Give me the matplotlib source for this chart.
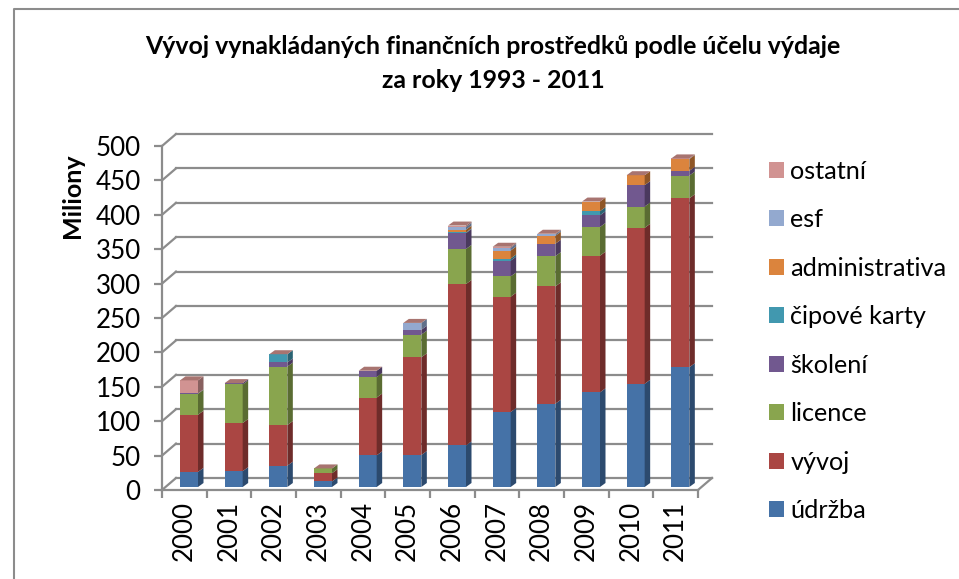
import numpy as np
import matplotlib
matplotlib.use('Agg')
import matplotlib.pyplot as plt
from matplotlib.patches import Polygon, Patch

plt.rcParams['font.family'] = ['Lato', 'DejaVu Sans']

roky = ['2000', '2001', '2002', '2003', '2004', '2005', '2006', '2007', '2008', '2009', '2010', '2011']

udrzba = [22, 23, 31, 8, 46, 46.5, 60.5, 109, 121, 137.6, 150, 174]
vyvoj = [83, 70, 59, 12, 84, 142, 234.5, 167.6, 170.5, 198.6, 226.7, 245.6]
licence = [30.5, 56, 85, 7, 30, 33, 51, 29.5, 44, 41.7, 31, 33]
skoleni = [0.5, 2, 6, 0, 9, 7, 23, 23, 18, 17, 31, 7]
cipove_karty = [0, 0, 12, 0, 0, 0, 1, 3, 0, 6, 0, 0]
administrativa = [0, 0, 0, 0, 0, 0, 4, 11.6, 11.6, 14, 14.5, 17]
esf = [0, 0, 0, 0, 0, 10, 4, 4, 2, 0, 0, 0]
ostatni = [19, 0, 0, 0, 0, 0, 2, 1.5, 1, 0, 0, 1]

serie = [udrzba, vyvoj, licence, skoleni, cipove_karty, administrativa, esf, ostatni]
nazvy = ['údržba', 'vývoj', 'licence', 'školení', 'čipové karty', 'administrativa', 'esf', 'ostatní']
barvy = ['#4572A7', '#AA4643', '#89A54E', '#71588F', '#4198AF', '#DB843D', '#93A9CF', '#D19392']
bocni = ['#2C4A6E', '#6E2C2A', '#5A6C32', '#4A395E', '#2A6373', '#8F5626', '#60708A', '#88605F']
horni = '#A87470'

W, H = 959, 579
fig = plt.figure(figsize=(W / 100, H / 100), dpi=100)

# ramecek grafu - jen vlevo a nahore, zbytek je oriznuty
seda = '#8C8C8C'
fig.add_artist(plt.Line2D([14 / W, 14 / W, 1], [0, 1 - 9 / H, 1 - 9 / H], color=seda, lw=1.5))

ax = fig.add_axes([162 / W, 1 - 490 / H, 536 / W, 344 / H])
ax.set_xlim(0, 12)
ax.set_ylim(0, 500)
ax.patch.set_visible(False)
for s in ['top', 'right', 'bottom', 'left']:
    ax.spines[s].set_visible(False)

# hloubka steny v jednotkach dat
hl_x = 14 / (536 / 12)
hl_y = 12 / (344 / 500)
cara = dict(color=seda, lw=1.6, clip_on=False, solid_capstyle='projecting')

for v in range(0, 501, 50):
    ax.plot([0, hl_x], [v, v + hl_y], **cara)
    ax.plot([hl_x, 12 + hl_x], [v + hl_y, v + hl_y], **cara)
ax.plot([0, 0], [0, 500], **cara)
ax.plot([0, 12], [0, 0], **cara)
ax.plot([12, 12 + hl_x], [0, hl_y], **cara)

ax.set_xticks(np.arange(0, 13))
ax.set_xticklabels([])
ax.set_yticks(np.arange(0, 501, 50))
ax.tick_params(axis='both', length=5.8, width=1.6, color=seda, labelsize=18.7)
ax.tick_params(axis='y', pad=9.5)
for i, r in enumerate(roky):
    ax.text(i + 0.5, -16, r, rotation=90, ha='center', va='top', fontsize=18.7)

# sloupce: predni stena, bok a vrsek
sirka = 18 / (536 / 12)
odsaz = 18 / (536 / 12)
bok_x = 5.5 / (536 / 12)
bok_y = 4 / (344 / 500)
zaklad = 3 / (344 / 500)

for i in range(len(roky)):
    x0 = i + odsaz
    x1 = x0 + sirka
    spodek = zaklad
    for hodnoty, barva, bok in zip(serie, barvy, bocni):
        h = hodnoty[i]
        if h == 0:
            continue
        ax.bar(x0, h, width=sirka, bottom=spodek, align='edge', color=barva, zorder=3, clip_on=False)
        ax.add_patch(Polygon([(x1, spodek), (x1 + bok_x, spodek + bok_y),
                              (x1 + bok_x, spodek + h + bok_y), (x1, spodek + h)],
                             facecolor=bok, edgecolor='none', zorder=3, clip_on=False))
        spodek += h
    ax.add_patch(Polygon([(x0, spodek), (x0 + bok_x, spodek + bok_y),
                          (x1 + bok_x, spodek + bok_y), (x1, spodek)],
                         facecolor=horni, edgecolor='none', zorder=3, clip_on=False))

fig.text(72 / W, 1 - 196 / H, 'Miliony', rotation=90, ha='center', va='center',
         fontsize=18, fontweight='bold')
fig.text(493 / W, 1 - 46 / H, 'Vývoj vynakládaných finančních prostředků podle účelu výdaje',
         ha='center', va='center', fontsize=17.95, fontweight='bold')
fig.text(493 / W, 1 - 80 / H, 'za roky 1993 - 2011',
         ha='center', va='center', fontsize=17.95, fontweight='bold')

# legenda v opacnem poradi
uchyty = [Patch(facecolor=b, label=n) for b, n in zip(barvy, nazvy)][::-1]
fig.legend(handles=uchyty, loc='center left', bbox_to_anchor=(769 / W, 1 - 341 / H), frameon=False,
           fontsize=18.2, handlelength=0.6, handleheight=0.6, handletextpad=0.24,
           labelspacing=1.01, borderpad=0, borderaxespad=0)

fig.savefig('out.png', dpi=100)
